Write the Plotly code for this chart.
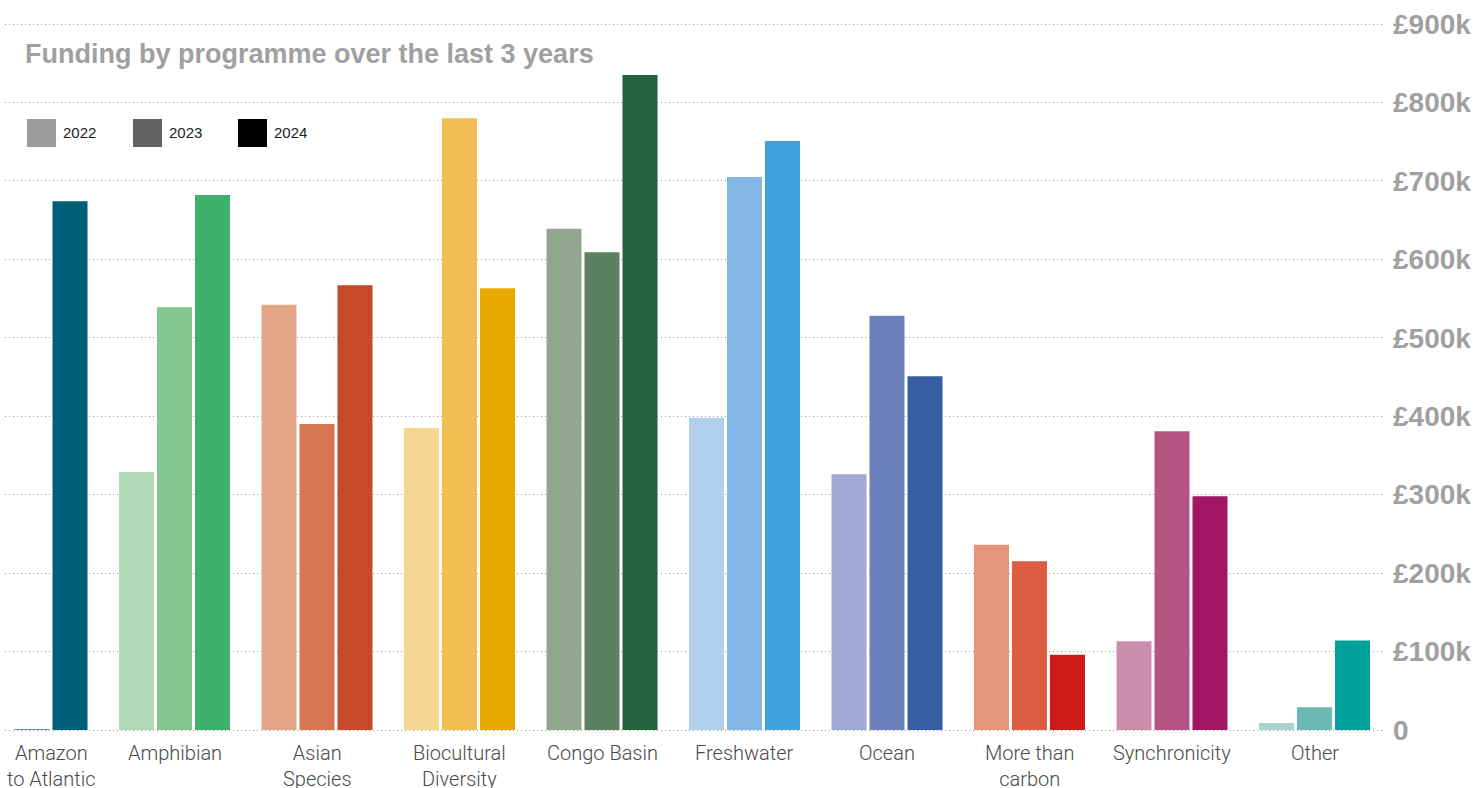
import plotly.graph_objects as go

# Programme categories (tick labels use <br> for line breaks)
programmes = [
    "Amazon<br>to Atlantic", "Amphibian", "Asian<br>Species", "Biocultural<br>Diversity",
    "Congo Basin", "Freshwater", "Ocean", "More than<br>carbon", "Synchronicity", "Other",
]

years = ["2022", "2023", "2024"]

# Funding per programme (GBP)
funding_2022 = [0, 329000, 542000, 385000, 639000, 398000, 326000, 236000, 113000, 9000]
funding_2023 = [800, 539000, 390000, 780000, 609000, 705000, 528000, 215000, 381000, 29000]
funding_2024 = [674000, 682000, 567000, 563000, 835000, 751000, 451000, 96000, 298000, 114000]

# Per-programme palettes, light -> dark for 2022 -> 2024
colors_2022 = ["#3E8399", "#B2D9B5", "#E3A689", "#F6D590", "#92A68F",
               "#B0D0EE", "#A0A8D3", "#E7957A", "#CD8DAD", "#A8D3D0"]
colors_2023 = ["#5E93A6", "#82C68F", "#D67751", "#F0BE52", "#5B8160",
               "#83B8E6", "#6C81BB", "#DD5D42", "#B65584", "#6CB8B2"]
colors_2024 = ["#005F78", "#3DB06B", "#C64A27", "#E9AA00", "#21633C",
               "#40A2DD", "#375EA3", "#CF1A1A", "#A21763", "#00A19A"]

legend_colors = ["#9B9B9B", "#636363", "#000000"]

y_ticks = [0, 100000, 200000, 300000, 400000, 500000, 600000, 700000, 800000, 900000]
y_ticktext = ["0", "£100k", "£200k", "£300k", "£400k", "£500k", "£600k", "£700k", "£800k", "£900k"]

title_text = "Funding by programme over the last 3 years"

# Canvas / plot-area geometry in pixels
W, H = 1481, 788
PL, PR, PT, PB = 5, 1383, 20, 734


def px_x(x):
    return (x - PL) / (PR - PL)


def px_y(y):
    return (PB - y) / (PB - PT)


fig = go.Figure()
for name, vals, cols in zip(years, [funding_2022, funding_2023, funding_2024],
                            [colors_2022, colors_2023, colors_2024]):
    fig.add_trace(go.Bar(
        x=programmes, y=vals, name=name,
        marker=dict(color=cols, line=dict(width=0)),
        showlegend=False,
    ))

label_font = dict(family="Roboto", size=20, color="#4A4A4A", weight=300)

annotations = []
# Category labels under each group; the first one is kept inside the left edge
for i, p in enumerate(programmes):
    if i == 0:
        annotations.append(dict(
            x=0, xref="paper", xanchor="left", y=0, yref="paper", yanchor="top",
            yshift=-5, text=p, showarrow=False, align="center", font=label_font,
        ))
    else:
        annotations.append(dict(
            x=p, xref="x", xanchor="center", y=0, yref="paper", yanchor="top",
            yshift=-5, text=p, showarrow=False, align="center", font=label_font,
        ))

# Title
annotations.append(dict(
    x=px_x(23), y=px_y(54), xref="paper", yref="paper", xanchor="left", yanchor="middle",
    text=title_text, showarrow=False,
    font=dict(family="Liberation Sans", size=27, color="#A0A0A0", weight="bold"),
))

# Custom legend: grey squares with year labels
shapes = []
legend_x = [27, 133, 238]
for lx, yr, col in zip(legend_x, years, legend_colors):
    shapes.append(dict(
        type="rect", xref="paper", yref="paper",
        x0=px_x(lx), x1=px_x(lx + 29), y0=px_y(147), y1=px_y(119),
        fillcolor=col, line=dict(width=0), layer="above",
    ))
    annotations.append(dict(
        x=px_x(lx + 34), y=px_y(132), xref="paper", yref="paper",
        xanchor="left", yanchor="middle", text=yr, showarrow=False,
        font=dict(family="Liberation Sans", size=15, color="#222222"),
    ))

step_px = 142.5
first_center_px = 32
x_lo = (PL - first_center_px) / step_px
x_hi = (PR - first_center_px) / step_px

fig.update_layout(
    width=W, height=H,
    margin=dict(l=PL, r=W - PR, t=PT, b=H - PB, pad=0),
    paper_bgcolor="white", plot_bgcolor="white",
    barmode="group", bargap=0.2, bargroupgap=0.079,
    annotations=annotations, shapes=shapes,
    xaxis=dict(
        range=[x_lo, x_hi], showticklabels=False, showgrid=False, zeroline=False,
        showline=False, ticks="", automargin=False, fixedrange=True,
    ),
    yaxis=dict(
        side="right", range=[-5100, 905100], tickvals=y_ticks, ticktext=y_ticktext,
        showgrid=True, gridcolor="#9A9A9A", gridwidth=1, griddash="1px,3px",
        zeroline=False, showline=False, ticks="", ticklabelstandoff=9,
        tickfont=dict(family="Liberation Sans", size=28, color="#A0A0A0", weight="bold"),
        automargin=False, fixedrange=True,
    ),
    showlegend=False,
)

fig.write_html("out.html")
